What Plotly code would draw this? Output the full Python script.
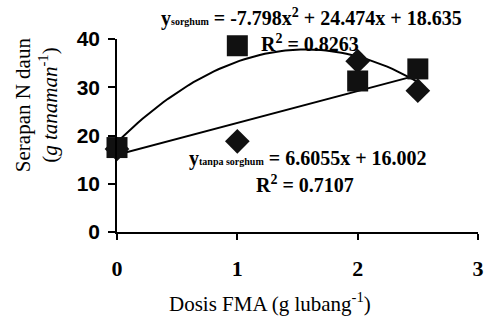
import numpy as np
import plotly.graph_objects as go

# data
dosis = [0, 1, 2, 2.5]
serapan_sorghum = [17.5, 38.6, 31.3, 33.8]
serapan_tanpa = [17.2, 18.8, 35.4, 29.3]

# trend line coefficients shown on the chart (highest power first)
coef_sorghum = [-7.798, 24.474, 18.635]
coef_tanpa = [6.6055, 16.002]
r2_sorghum = 0.8263
r2_tanpa = 0.7107

xfit = np.linspace(0, 2.5, 60)
yfit_s = np.polyval(coef_sorghum, xfit)
yfit_t = np.polyval(coef_tanpa, xfit)

serif = "Liberation Serif"
ink = "black"
fig = go.Figure()
fig.add_trace(go.Scatter(x=xfit, y=yfit_s, mode="lines",
                         line=dict(color=ink, width=2), cliponaxis=False))
fig.add_trace(go.Scatter(x=xfit, y=yfit_t, mode="lines",
                         line=dict(color=ink, width=2), cliponaxis=False))
fig.add_trace(go.Scatter(x=dosis, y=serapan_tanpa, mode="markers",
                         marker=dict(symbol="diamond", size=19, color="#111"),
                         cliponaxis=False))
fig.add_trace(go.Scatter(x=dosis, y=serapan_sorghum, mode="markers",
                         marker=dict(symbol="square", size=21, color="#111"),
                         cliponaxis=False))

sub = "<span style='font-size:10px'>{}</span>"
ann = [
    dict(x=0.54, y=1.11, text="<b>y" + sub.format("sorghum") + " = -7.798x<sup>2</sup> + 24.474x + 18.635</b>"),
    dict(x=0.535, y=0.98, text="<b>R<sup>2</sup> = {:.4f}</b>".format(r2_sorghum)),
    dict(x=0.53, y=0.38, text="<b>y" + sub.format("tanpa sorghum") + " = 6.6055x + 16.002</b>"),
    dict(x=0.52, y=0.25, text="<b>R<sup>2</sup> = {:.4f}</b>".format(r2_tanpa)),
]
annotations = []
for a in ann:
    a.update(xref="paper", yref="paper", showarrow=False,
             xanchor="center", yanchor="middle",
             font=dict(family=serif, size=20, color=ink))
    annotations.append(a)

annotations.append(dict(xref="paper", yref="paper", x=-0.299, y=0.66, textangle=-90,
                        showarrow=False, align="center",
                        text="Serapan N daun<br>(<i>g tanaman</i><sup>-1</sup>)",
                        font=dict(family=serif, size=21, color=ink)))
annotations.append(dict(xref="paper", yref="paper", x=0.425, y=-0.365,
                        showarrow=False, xanchor="center", yanchor="middle",
                        text="Dosis FMA (g lubang<sup>-1</sup>)",
                        font=dict(family=serif, size=21, color=ink)))

fig.update_layout(
    width=490, height=322,
    margin=dict(l=117, r=6, t=39, b=90),
    paper_bgcolor="white", plot_bgcolor="white",
    showlegend=False,
    annotations=annotations,
    xaxis=dict(range=[0, 3], tickvals=[0, 1, 2, 3], showgrid=False, zeroline=False,
               showline=True, linecolor=ink, linewidth=1.5,
               ticks="outside", ticklen=6, tickwidth=1.5, tickcolor=ink,
               ticklabelstandoff=10,
               tickfont=dict(family=serif, size=22, color=ink, weight="bold")),
    yaxis=dict(range=[0, 40], tickvals=[0, 10, 20, 30, 40], showgrid=False, zeroline=False,
               showline=True, linecolor=ink, linewidth=1.5,
               ticks="outside", ticklen=7, tickwidth=1.5, tickcolor=ink,
               ticklabelstandoff=4,
               tickfont=dict(family="Liberation Sans", size=21, color=ink, weight="bold")),
)
fig.write_html("out.html")
